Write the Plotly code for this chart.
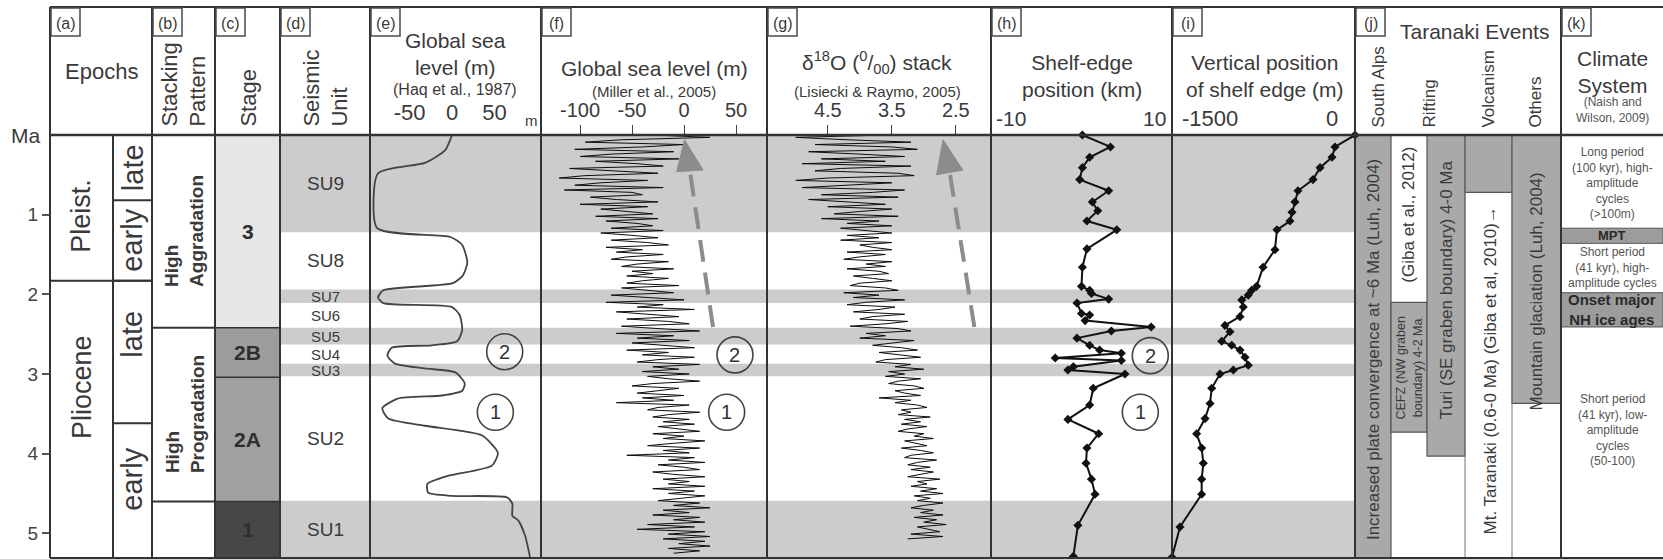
import plotly.graph_objects as go

# ---------------------------------------------------------------------------
# Records plotted against age (Ma)
# ---------------------------------------------------------------------------
haq_age = [0.00, 0.19, 0.35, 0.48, 1.17, 1.28, 1.38, 1.60, 1.76, 1.86, 1.95, 2.04,
           2.11, 2.16, 2.26, 2.45, 2.59, 2.64, 2.67, 2.77, 2.87, 2.93, 2.98, 3.12,
           3.21, 3.27, 3.31, 3.43, 3.56, 3.65, 3.77, 3.99, 4.15, 4.28, 4.38, 4.49,
           4.53, 4.55, 4.63, 4.78, 4.84, 5.03, 5.31]
haq_sea_level = [0, -8, -32, -87, -88, -2, 12, 18, 13, 1, -81, -87,
                 -81, 0, 9, 12, 6, -24, -71, -76, -67, -32, 4, 15,
                 12, -12, -64, -82, -75, -32, 35, 54, 47, -5, -29, -28,
                 0, 65, 71, 71, 78, 86, 92]

miller_age = [
    0.00, 0.03, 0.06, 0.09, 0.12, 0.15, 0.18, 0.21, 0.24, 0.27,
    0.30, 0.33, 0.36, 0.39, 0.42, 0.45, 0.48, 0.51, 0.54, 0.57,
    0.60, 0.63, 0.66, 0.69, 0.72, 0.75, 0.78, 0.81, 0.84, 0.87,
    0.90, 0.93, 0.96, 0.99, 1.02, 1.05, 1.08, 1.11, 1.14, 1.17,
    1.20, 1.23, 1.26, 1.29, 1.32, 1.35, 1.38, 1.41, 1.44, 1.47,
    1.50, 1.53, 1.56, 1.59, 1.62, 1.65, 1.68, 1.71, 1.74, 1.77,
    1.80, 1.83, 1.86, 1.89, 1.92, 1.95, 1.98, 2.01, 2.04, 2.07,
    2.10, 2.13, 2.16, 2.19, 2.22, 2.25, 2.28, 2.31, 2.34, 2.37,
    2.40, 2.43, 2.46, 2.49, 2.52, 2.55, 2.58, 2.61, 2.64, 2.67,
    2.70, 2.73, 2.76, 2.79, 2.82, 2.85, 2.88, 2.91, 2.94, 2.97,
    3.00, 3.03, 3.06, 3.09, 3.12, 3.15, 3.18, 3.21, 3.24, 3.27,
    3.30, 3.33, 3.36, 3.39, 3.42, 3.45, 3.48, 3.51, 3.54, 3.57,
    3.60, 3.63, 3.66, 3.69, 3.72, 3.75, 3.78, 3.81, 3.84, 3.87,
    3.90, 3.93, 3.96, 3.99, 4.02, 4.05, 4.08, 4.11, 4.14, 4.17,
    4.20, 4.23, 4.26, 4.29, 4.32, 4.35, 4.38, 4.41, 4.44, 4.47,
    4.50, 4.53, 4.56, 4.59, 4.62, 4.65, 4.68, 4.71, 4.74, 4.77,
    4.80, 4.83, 4.86, 4.89, 4.92, 4.95, 4.98, 5.01, 5.04, 5.07,
    5.10, 5.13, 5.16, 5.19, 5.22, 5.25]
miller_sea_level = [
    -30, 25, -60, -95, 0, -40, -105, -10, -70, -100,
    -5, -85, -45, -20, -110, -60, -25, -95, -120, -35,
    -80, -105, -20, -115, -50, -40, -90, -65, -25, -100,
    -35, -80, -55, -30, -85, -25, -75, -45, -30, -70,
    -20, -80, -50, -25, -70, -35, -15, -75, -40, -65,
    -20, -55, -70, -15, -45, -60, -10, -50, -30, -55,
    -15, -40, -55, -5, -60, -35, -10, -70, -30, 0,
    -75, -20, -45, 10, -65, -30, -5, -55, -15, 5,
    -60, -25, 15, -65, -10, -45, 5, -50, -20, 10,
    -55, -15, -40, 10, -25, -45, 15, -30, -5, -40,
    5, -35, -15, 15, -30, -50, -5, -25, -45, 0,
    -40, -10, -65, 5, -25, -35, 15, -15, -30, 5,
    -20, 10, -25, -5, 15, -30, 0, -20, 20, -10,
    -35, 15, -20, 5, -55, 10, -15, 20, -25, 0,
    15, -30, -10, 20, -20, 5, -15, 20, -30, 10,
    -15, 20, -5, -25, 15, -10, 25, -20, 5, -30,
    15, -10, 20, -35, 10, -45, 20, -15, 25, -20,
    20, -5, 25, -15, 15, -10]

lr04_d18o = [
    3.6, 5.0, 4.2, 3.2, 4.7, 3.5, 3.1, 4.8, 4.0, 3.3,
    4.6, 3.6, 4.9, 3.2, 4.3, 4.7, 3.4, 3.15, 4.5, 5.0,
    3.5, 4.2, 4.9, 3.3, 3.8, 4.6, 3.4, 4.8, 4.1, 3.6,
    4.5, 3.5, 4.0, 4.4, 3.4, 4.6, 3.7, 4.2, 3.5, 4.3,
    3.9, 3.5, 4.2, 3.7, 4.3, 3.5, 4.0, 3.8, 3.5, 4.2,
    3.6, 4.0, 4.25, 3.5, 3.9, 3.6, 4.2, 3.7, 3.55, 4.1,
    3.8, 3.5, 4.0, 4.15, 3.6, 3.4, 4.25, 3.7, 4.1, 3.3,
    3.9, 4.2, 3.45, 3.7, 4.1, 3.3, 3.8, 4.0, 3.25, 3.6,
    4.15, 3.4, 3.2, 3.9, 3.6, 4.0, 3.15, 3.5, 3.8, 3.35,
    3.1, 3.7, 3.4, 3.05, 3.6, 3.75, 3.2, 3.45, 3.0, 3.55,
    3.3, 3.6, 3.05, 3.4, 3.55, 3.15, 3.0, 3.45, 3.3, 3.05,
    3.7, 3.2, 3.45, 3.1, 2.95, 3.35, 3.2, 3.4, 2.9, 3.3,
    3.05, 3.35, 2.95, 3.25, 3.4, 3.0, 3.15, 2.85, 3.3, 3.1,
    2.95, 3.35, 3.05, 2.85, 3.2, 3.3, 2.8, 3.1, 3.25, 2.9,
    3.2, 2.85, 3.05, 3.25, 2.75, 3.1, 2.95, 3.2, 2.8, 3.05,
    2.7, 3.15, 2.9, 3.1, 2.7, 3.0, 3.2, 2.85, 3.05, 2.7,
    3.15, 2.8, 3.0, 2.65, 3.1, 2.9, 2.75, 3.2, 2.7, 3.25]
lr04_age = miller_age[:len(lr04_d18o)]

shelf_age = [0.00, 0.15, 0.28, 0.41, 0.56, 0.70, 0.84, 0.95, 1.08, 1.19,
             1.43, 1.66, 1.90, 1.95, 1.99, 2.06, 2.11, 2.24, 2.26, 2.33,
             2.41, 2.46, 2.55, 2.64, 2.70, 2.74, 2.80, 2.83, 2.91, 2.95,
             3.00, 3.18, 3.39, 3.57, 3.75, 3.93, 4.12, 4.32, 4.51, 4.90, 5.29]
shelf_position_km = [0.1, 3.2, 0.9, 0.1, -0.2, 3.0, 1.2, 1.8, 0.6, 3.9,
                     0.6, 0.1, 0.0, 0.9, 1.1, 3.0, -0.5, 0.0, 0.9, 0.4,
                     7.7, 3.3, -0.5, 0.9, 2.0, 4.4, -2.9, 4.4, -0.9, -1.5,
                     4.8, 1.3, 0.9, -1.5, 1.9, 0.6, 0.5, 1.1, 1.5, -0.4, -0.9]

vert_age = [0.00, 0.15, 0.28, 0.41, 0.56, 0.70, 0.84, 0.97, 1.08, 1.19,
            1.44, 1.66, 1.90, 1.95, 2.01, 2.07, 2.16, 2.28, 2.39, 2.47,
            2.59, 2.64, 2.70, 2.79, 2.89, 2.95, 3.00, 3.18, 3.37, 3.56,
            3.75, 3.93, 4.12, 4.32, 4.51, 4.92, 5.30]
vert_position_m = [0, -208, -239, -363, -436, -592, -623, -654, -675, -810,
                   -831, -955, -1021, -1073, -1108, -1176, -1160, -1194, -1350, -1298,
                   -1384, -1280, -1194, -1142, -1108, -1263, -1402, -1488, -1505, -1557,
                   -1644, -1592, -1575, -1592, -1592, -1817, -1900]

# ---------------------------------------------------------------------------
# Stratigraphic / interpretation columns
# ---------------------------------------------------------------------------
epoch_names = ["Pleist.", "Pliocene"]
epoch_top = [0.0, 1.83]
epoch_base = [1.83, 5.31]
epoch_label_age = [1.02, 3.17]

subepoch_names = ["late", "early", "late", "early"]
subepoch_top = [0.0, 0.82, 1.83, 3.62]
subepoch_base = [0.82, 1.83, 3.62, 5.31]
subepoch_label_age = [0.41, 1.32, 2.50, 4.32]

stacking_names = ["High<br>Aggradation", "High<br>Progradation"]
stacking_top = [0.0, 2.42]
stacking_base = [2.42, 4.60]

stage_names = ["3", "2B", "2A", "1"]
stage_top = [0.0, 2.42, 3.04, 4.60]
stage_base = [2.42, 3.04, 4.60, 5.31]

unit_names = ["SU9", "SU8", "SU7", "SU6", "SU5", "SU4", "SU3", "SU2", "SU1"]
unit_top = [0.0, 1.22, 1.94, 2.11, 2.42, 2.63, 2.87, 3.03, 4.59]
unit_base = [1.22, 1.94, 2.11, 2.42, 2.63, 2.87, 3.03, 4.59, 5.31]

event_names = ["Increased plate convergence at ~6 Ma (Luh, 2004)",
               "CEFZ (NW graben<br>boundary) 4-2 Ma",
               "Turi (SE graben boundary) 4-0 Ma",
               "",
               "Mountain glaciation (Luh, 2004)"]
event_top = [0.0, 2.10, 0.0, 0.0, 0.0]
event_base = [5.31, 3.73, 4.03, 0.72, 3.37]
event_label_age = [2.70, 2.92, 1.95, 0.36, 1.97]

climate_names = ["Long period<br>(100 kyr), high-<br>amplitude<br>cycles<br>(&gt;100m)",
                 "MPT",
                 "Short period<br>(41 kyr), high-<br>amplitude cycles",
                 "Onset major<br>NH ice ages",
                 "Short period<br>(41 kyr), low-<br>amplitude<br>cycles<br>(50-100)"]
climate_top = [0.0, 1.17, 1.36, 1.98, 2.41]
climate_base = [1.17, 1.36, 1.98, 2.41, 5.31]
climate_label_age = [0.60, 1.265, 1.66, 2.195, 3.70]

age_ticks = [1, 2, 3, 4, 5]
AGE_MAX = 5.31

# column headings written upright along the header's lower edge
left_headings = ["Stacking<br>Pattern", "Stage", "Seismic<br>Unit"]
event_headings = ["South Alps", "Rifting", "Volcanism", "Others"]

# ---------------------------------------------------------------------------
# Page geometry (pixels)
# ---------------------------------------------------------------------------
W, H = 1663, 559
ML, MR, MT, MB = 50, 0, 135, 1
PW = W - ML - MR
PH = H - MT - MB

COL = dict(a=50, a2=113, b=152, c=215, d=280, e=370, f=541, g=767,
           h=991, i=1172, j=1355, k=1561, end=1663)
J_SUB = [1355, 1391, 1427, 1465, 1512, 1561]
LEFT_HEADING_X = [184, 249, 326]
EVENT_HEADING_X = [1378, 1429, 1488, 1535]


def xp(px):
    return (px - ML) / PW


def yp(py):
    return (H - MB - py) / PH


FONT = "Liberation Sans, Arial, Helvetica, sans-serif"
TXT = "#3a3a3a"
EDGE = "#333333"

shapes = []
annotations = []


def rect(x0, x1, y0, y1, fill, line_color=None, line_width=0, yref="y", layer="below"):
    shapes.append(dict(type="rect", xref="paper", yref=yref,
                       x0=xp(x0), x1=xp(x1), y0=y0, y1=y1, fillcolor=fill,
                       line=dict(color=line_color or fill, width=line_width), layer=layer))


def seg(x0, y0, x1, y1, yref="paper", color=EDGE, width=2):
    shapes.append(dict(type="line", xref="paper", yref=yref,
                       x0=xp(x0), x1=xp(x1), y0=y0, y1=y1,
                       line=dict(color=color, width=width), layer="above"))


def label(x, y, s, size, yref="y", angle=0, color=TXT, xanchor="center",
          yanchor="middle", align="center"):
    annotations.append(dict(x=xp(x), y=y, xref="paper", yref=yref, text=s,
                            showarrow=False, textangle=angle,
                            font=dict(size=size, color=color, family=FONT),
                            xanchor=xanchor, yanchor=yanchor, align=align))


# ---- seismic-unit shading across the record columns ----
for k, name in enumerate(unit_names):
    if k % 2 == 0:
        rect(COL["d"], COL["j"], unit_top[k], unit_base[k], "#cccccc")
    small = name in ("SU7", "SU6", "SU5", "SU4", "SU3")
    label((COL["d"] + COL["e"]) / 2, (unit_top[k] + unit_base[k]) / 2, name,
          15 if small else 19)

# ---- epochs ----
for k, name in enumerate(epoch_names):
    label((COL["a"] + COL["a2"]) / 2, epoch_label_age[k], name, 27, angle=-90)
    if k > 0:
        seg(COL["a"], epoch_top[k], COL["b"], epoch_top[k], yref="y")
for k, name in enumerate(subepoch_names):
    label((COL["a2"] + COL["b"]) / 2, subepoch_label_age[k], name, 29, angle=-90)
    if k > 0:
        seg(COL["a2"], subepoch_top[k], COL["b"], subepoch_top[k], yref="y")
seg(COL["a2"], 0, COL["a2"], 1)

# ---- stacking pattern ----
for k, name in enumerate(stacking_names):
    label((COL["b"] + COL["c"]) / 2 + 1, (stacking_top[k] + stacking_base[k]) / 2,
          "<b>" + name + "</b>", 19, angle=-90, align="left")
    seg(COL["b"], stacking_base[k], COL["c"], stacking_base[k], yref="y")

# ---- stages ----
stage_fill = ["#e6e6e6", "#9c9c9c", "#a0a0a0", "#474747"]
for k, name in enumerate(stage_names):
    rect(COL["c"], COL["d"], stage_top[k], stage_base[k], stage_fill[k])
    label((COL["c"] + COL["d"]) / 2, (stage_top[k] + stage_base[k]) / 2,
          "<b>" + name + "</b>", 21, color="#2e2e2e")
    if k > 0:
        seg(COL["c"], stage_top[k], COL["d"], stage_top[k], yref="y", width=1.5)

# ---- Taranaki events ----
event_cols = [(J_SUB[0], J_SUB[1]), (J_SUB[1], J_SUB[2]), (J_SUB[2], J_SUB[3]),
              (J_SUB[3], J_SUB[4]), (J_SUB[4], J_SUB[5])]
for k, name in enumerate(event_names):
    x0, x1 = event_cols[k]
    rect(x0, x1, event_top[k], event_base[k], "#a9a9a9", "#555555", 1.2)
    if name:
        label((x0 + x1) / 2, event_label_age[k], name, 12.5 if k == 1 else 17, angle=-90)
seg(J_SUB[3], 0, J_SUB[3], 1, color="#777777", width=1)
seg(J_SUB[4], 0, J_SUB[4], 1, color="#777777", width=1)
label((J_SUB[1] + J_SUB[2]) / 2, 1.0, "(Giba et al., 2012)", 17, angle=-90)
label((J_SUB[3] + J_SUB[4]) / 2 + 1, 2.95,
      "Mt. Taranaki (0.6-0 Ma) (Giba et al, 2010)\u2192", 17, angle=-90)

# ---- climate system ----
for k, name in enumerate(climate_names):
    if k in (1, 3):
        rect(COL["k"], COL["end"], climate_top[k], climate_base[k], "#9c9c9c", "#555555", 1)
        label((COL["k"] + COL["end"]) / 2, climate_label_age[k], "<b>" + name + "</b>",
              13 if k == 1 else 15, color="#2a2a2a")
    else:
        label((COL["k"] + COL["end"]) / 2, climate_label_age[k], name, 12, color="#555555")

# ---- frame: header and column rules ----
seg(COL["a"], yp(7), COL["end"], yp(7))
seg(COL["a"], 1, COL["end"], 1, width=2.5)
seg(COL["a"], 0, COL["end"], 0)
for key in ("a", "b", "c", "d", "e", "f", "g", "h", "i", "j", "k"):
    seg(COL[key], yp(7), COL[key], 0)

for key in ["a", "b", "c", "d", "e", "f", "g", "h", "i", "j", "k"]:
    x0 = COL[key]
    shapes.append(dict(type="rect", xref="paper", yref="paper", x0=xp(x0 + 1), x1=xp(x0 + 30),
                       y0=yp(8), y1=yp(36), fillcolor="white",
                       line=dict(color="#4a4a4a", width=1.5), layer="above"))
    label(x0 + 15.5, yp(23), "(" + key + ")", 16, yref="paper")

# ---- header text ----
label(101, yp(72), "Epochs", 22, yref="paper")
label(455, yp(54), "Global sea<br>level (m)", 21, yref="paper")
label(455, yp(90), "(Haq et al., 1987)", 16, yref="paper")
label(531, yp(120), "m", 15, yref="paper")
label(654, yp(68), "Global sea level (m)", 21, yref="paper")
label(654, yp(91), "(Miller et al., 2005)", 15, yref="paper")
label(877, yp(62), "\u03b4<sup>18</sup>O (<sup>0</sup>/<sub>00</sub>) stack", 21, yref="paper")
label(877, yp(92), "(Lisiecki &amp; Raymo, 2005)", 15, yref="paper")
label(1082, yp(76), "Shelf-edge<br>position (km)", 21, yref="paper")
label(994, yp(119), "-10", 21, yref="paper", xanchor="left")
label(1168, yp(119), "10", 21, yref="paper", xanchor="right")
label(1265, yp(76), "Vertical position<br>of shelf edge (m)", 21, yref="paper")
label(1210, yp(119), "-1500", 22, yref="paper")
label(1340, yp(119), "0", 22, yref="paper", xanchor="right")
label(1474, yp(32), "Taranaki Events", 21, yref="paper")
label(1612, yp(72), "Climate<br>System", 21, yref="paper")
label(1612, yp(110), "(Naish and<br>Wilson, 2009)", 12, yref="paper", color="#555555")
annotations.append(dict(x=xp(25), y=0, xref="paper", yref="y", text="Ma", showarrow=False,
                        font=dict(size=21, color=TXT, family=FONT), xanchor="center", yanchor="middle"))

# ---- circled sequence numbers ----
for axis, val, age, num in [("x2", 62, 2.72, "2"), ("x2", 51, 3.48, "1"),
                            ("x3", 49, 2.76, "2"), ("x3", 41, 3.48, "1"),
                            ("x5", 7.6, 2.77, "2"), ("x5", 6.5, 3.48, "1")]:
    shapes.append(dict(type="circle", xref=axis, yref="y", xsizemode="pixel", ysizemode="pixel",
                       xanchor=val, yanchor=age, x0=-18, x1=18, y0=-18, y1=18,
                       line=dict(color="#444444", width=1.6), fillcolor="rgba(255,255,255,0)",
                       layer="above"))
    annotations.append(dict(x=val, y=age, xref=axis, yref="y", text=num, showarrow=False,
                            font=dict(size=20, color="#333333", family=FONT)))

# ---- dashed trend arrows on the sea-level and isotope records ----
ARROW = "#8c8c8c"
for axis, bottom, base_l, base_r, tip in [
        ("x3", (27.9, 2.41), (-7.0, 0.46), (18.3, 0.44), (0.5, 0.06)),
        ("x4", (2.21, 2.41), (2.80, 0.50), (2.39, 0.44), (2.70, 0.06))]:
    mid = ((base_l[0] + base_r[0]) / 2, (base_l[1] + base_r[1]) / 2)
    shapes.append(dict(type="line", xref=axis, yref="y", x0=bottom[0], y0=bottom[1],
                       x1=mid[0], y1=mid[1], line=dict(color=ARROW, width=4, dash="22px,11px"),
                       layer="above"))
    shapes.append(dict(type="path", xref=axis, yref="y",
                       path=f"M {tip[0]},{tip[1]} L {base_l[0]},{base_l[1]} L {base_r[0]},{base_r[1]} Z",
                       fillcolor=ARROW, line=dict(color=ARROW, width=1), layer="above"))

# ---------------------------------------------------------------------------
# Figure
# ---------------------------------------------------------------------------
fig = go.Figure()
# empty traces first so the heading axes are laid out without covering the records
for ax in ("x7", "x8"):
    fig.add_trace(go.Scatter(x=[], y=[], xaxis=ax, yaxis="y", mode="markers",
                             hoverinfo="skip", showlegend=False))
fig.add_trace(go.Scatter(x=haq_sea_level, y=haq_age, xaxis="x2", yaxis="y", mode="lines",
                         line=dict(color="#444444", width=1.8, shape="spline", smoothing=0.6),
                         hoverinfo="skip"))
fig.add_trace(go.Scatter(x=miller_sea_level, y=miller_age, xaxis="x3", yaxis="y", mode="lines",
                         line=dict(color="#0d0d0d", width=1.0), hoverinfo="skip"))
fig.add_trace(go.Scatter(x=lr04_d18o, y=lr04_age, xaxis="x4", yaxis="y", mode="lines",
                         line=dict(color="#0d0d0d", width=1.0), hoverinfo="skip"))
fig.add_trace(go.Scatter(x=shelf_position_km, y=shelf_age, xaxis="x5", yaxis="y",
                         mode="lines+markers", line=dict(color="#111111", width=2),
                         marker=dict(symbol="diamond", size=7, color="#111111"),
                         cliponaxis=False, hoverinfo="skip"))
fig.add_trace(go.Scatter(x=vert_position_m, y=vert_age, xaxis="x6", yaxis="y",
                         mode="lines+markers", line=dict(color="#111111", width=2),
                         marker=dict(symbol="diamond", size=7, color="#111111"),
                         cliponaxis=False, hoverinfo="skip"))


def data_axis(x0, x1, rng, **kw):
    base = dict(domain=[xp(x0), xp(x1)], anchor="y", side="top", range=rng,
                showgrid=False, zeroline=False, showline=False, fixedrange=True)
    base.update(kw)
    return base


def heading_axis(xs, names, size):
    # a label-only axis along the header's lower edge for the upright headings
    return dict(domain=[0, 1], anchor="y", side="top", range=[ML, W - MR],
                tickmode="array", tickvals=xs, ticktext=names, tickangle=-90,
                ticks="outside", ticklen=3, tickcolor="rgba(0,0,0,0)",
                tickfont=dict(size=size, color=TXT, family=FONT),
                showgrid=False, zeroline=False, showline=False, fixedrange=True)


fig.update_layout(
    width=W, height=H,
    margin=dict(l=ML, r=MR, t=MT, b=MB, pad=0),
    paper_bgcolor="white", plot_bgcolor="rgba(0,0,0,0)",
    showlegend=False,
    font=dict(family=FONT, color=TXT),
    xaxis=dict(domain=[0, 1], range=[ML, W - MR], visible=False, fixedrange=True),
    yaxis=dict(domain=[0, 1], range=[AGE_MAX, 0], anchor="free", position=0, side="left",
               tickvals=age_ticks,
               ticks="outside", ticklen=8, tickwidth=1.5, tickcolor="#555555",
               tickfont=dict(size=19, color="#444444", family=FONT),
               showgrid=False, zeroline=False, showline=False, fixedrange=True),
    xaxis2=data_axis(COL["e"], COL["f"], [-96.5, 104.7], tickvals=[-50, 0, 50],
                     ticktext=["-50", "0", "50"],
                     ticks="outside", ticklen=5, tickcolor="rgba(0,0,0,0)",
                     tickfont=dict(size=22, color=TXT, family=FONT)),
    xaxis3=data_axis(COL["f"], COL["g"], [-137.5, 79.8], tickvals=[-100, -50, 0, 50],
                     ticktext=["-100", "-50", "0", "50"],
                     ticks="outside", ticklen=9, tickwidth=1.2, tickcolor="#444444",
                     tickfont=dict(size=20, color=TXT, family=FONT)),
    xaxis4=data_axis(COL["g"], COL["h"], [5.45, 1.95], tickvals=[4.5, 3.5, 2.5],
                     ticktext=["4.5", "3.5", "2.5"],
                     ticks="outside", ticklen=9, tickwidth=1.2, tickcolor="#444444",
                     tickfont=dict(size=20, color=TXT, family=FONT)),
    xaxis5=data_axis(COL["h"], COL["i"], [-10, 10], showticklabels=False, ticks=""),
    xaxis6=data_axis(COL["i"], COL["j"], [-1900, 0], showticklabels=False, ticks=""),
    xaxis7=heading_axis(LEFT_HEADING_X, left_headings, 22),
    xaxis8=heading_axis(EVENT_HEADING_X, event_headings, 17),
    shapes=shapes,
    annotations=annotations,
)

fig.write_html("out.html", config={"displayModeBar": False})
